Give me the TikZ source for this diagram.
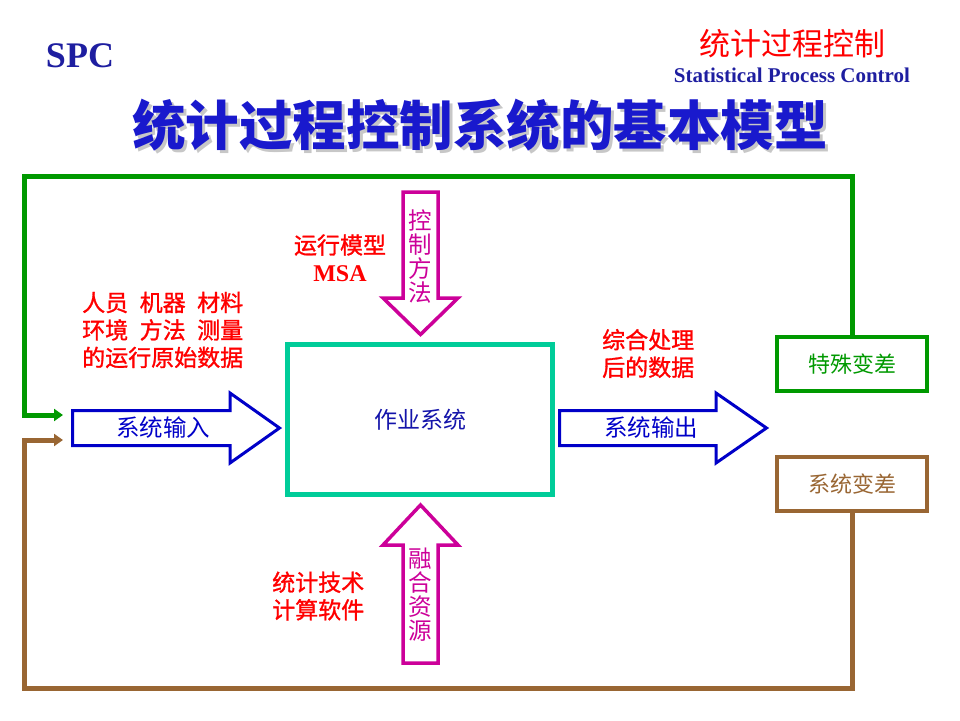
\documentclass[tikz,border=0pt]{standalone}
\usepackage{fontspec}
\setmainfont{Liberation Serif}
\newfontfamily\cjk{Noto Sans CJK SC}
\newfontfamily\cjkheavy{Noto Sans CJK SC}[FakeBold=1.2]
\usetikzlibrary{arrows.meta}
\definecolor{navy}{RGB}{30,30,160}
\definecolor{titleblue}{RGB}{25,25,205}
\definecolor{arrowblue}{RGB}{0,0,200}
\definecolor{textblue}{RGB}{20,20,170}
\definecolor{mag}{RGB}{204,0,153}
\definecolor{fgreen}{RGB}{0,153,0}
\definecolor{fbrown}{RGB}{153,102,51}
\definecolor{fteal}{RGB}{0,204,153}
\begin{document}
\begin{tikzpicture}[x=1pt,y=-1pt,
  redlabel/.style={font=\cjkheavy\fontsize{23}{27.5}\selectfont, text=red, align=left, inner sep=0pt},
  arrowtext/.style={font=\cjk\fontsize{23.5}{24}\selectfont, inner sep=0pt, align=center},
  varbox/.style={line width=4pt, minimum width=150pt, minimum height=54pt, inner sep=0pt, font=\cjk\fontsize{22}{24}\selectfont},
  blockarrow/.style={draw=arrowblue, line width=3pt, line join=miter},
  magarrow/.style={draw=mag, line width=3.5pt, line join=miter},
  feedback/.style={line width=5pt, line join=miter, -{Triangle[length=9pt,width=12pt]}}
]
\useasboundingbox (0,0) rectangle (960,720);

% headers
\node[font=\bfseries\fontsize{36}{36}\selectfont, text=navy, inner sep=0pt] (spc) at (80,56) {SPC};
\node[font=\cjk\fontsize{31}{31}\selectfont, text=red, inner sep=0pt] (cn) at (792,44) {统计过程控制};
\node[font=\bfseries\fontsize{21}{21}\selectfont, text=navy, inner sep=0pt] (en) at (792,75) {Statistical Process Control};
\node[font=\cjk\bfseries\fontsize{53.5}{53.5}\selectfont, text=black!22, inner sep=0pt] (titleshadow) at (483,128) {统计过程控制系统的基本模型};
\node[font=\cjk\bfseries\fontsize{53.5}{53.5}\selectfont, text=titleblue, inner sep=0pt] (title) at (480,125) {统计过程控制系统的基本模型};

% central box
\node[draw=fteal, line width=5pt, minimum width=265pt, minimum height=150pt, inner sep=0pt,
      font=\cjk\fontsize{23}{24}\selectfont, text=textblue] (work) at (420,419.5) {作业系统};

% variation boxes
\node[varbox, draw=fgreen, text=fgreen] (spec) at (852,364) {特殊变差};
\node[varbox, draw=fbrown, text=fbrown] (sysv) at (852,484) {系统变差};

% input arrow
\draw[blockarrow] (72.5,410.5) -- (230,410.5) -- (230,393) -- (279.5,428) -- (230,463) -- (230,445.5) -- (72.5,445.5) -- cycle;
\node[arrowtext, text=arrowblue] (inarr) at (163,428) {系统输入};
% output arrow
\draw[blockarrow] (559.5,410.5) -- (716,410.5) -- (716,393) -- (766.5,428) -- (716,463) -- (716,445.5) -- (559.5,445.5) -- cycle;
\node[arrowtext, text=arrowblue] (outarr) at (651,428) {系统输出};

% top magenta arrow
\draw[magarrow] (403,192) -- (438,192) -- (438,298) -- (458,298) -- (420.5,334.5) -- (383,298) -- (403,298) -- cycle;
\node[arrowtext, text=mag] (ctrl) at (420.5,257) {控\\制\\方\\法};
% bottom magenta arrow
\draw[magarrow] (403,663) -- (438,663) -- (438,545) -- (458,545) -- (420.5,505) -- (383,545) -- (403,545) -- cycle;
\node[arrowtext, text=mag] (res) at (420.5,595) {融\\合\\资\\源};

% red labels
\node[redlabel, anchor=west] (factors) at (82,330) {人员\hspace{0.5em}机器\hspace{0.5em}材料\\环境\hspace{0.5em}方法\hspace{0.5em}测量\\的运行原始数据};
\node[redlabel] (model) at (340,245) {运行模型};
\node[font=\bfseries\fontsize{24}{24}\selectfont, text=red, inner sep=0pt] (msa) at (340,274) {MSA};
\node[redlabel, anchor=west] (outdata) at (602,353.5) {综合处理\\后的数据};
\node[redlabel, anchor=west] (tech) at (272,596) {统计技术\\计算软件};

% feedback loops
\coordinate (gcorner) at (24,176);
\coordinate (gin) at (63,415);
\coordinate (bcorner) at (24,688);
\coordinate (bin) at (63,440);
\draw[feedback, draw=fgreen] (spec.north) |- (gcorner) |- (gin);
\draw[feedback, draw=fbrown] (sysv.south) |- (bcorner) |- (bin);
\end{tikzpicture}
\end{document}
